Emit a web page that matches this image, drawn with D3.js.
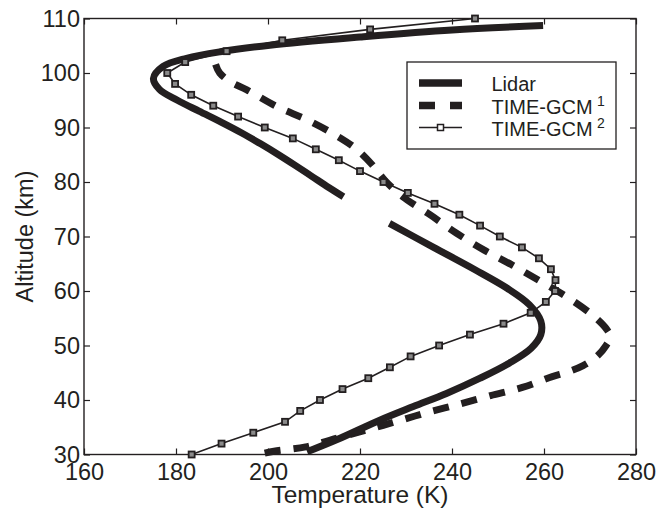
<!DOCTYPE html>
<html>
<head>
<meta charset="utf-8">
<script src="https://cdn.jsdelivr.net/npm/d3@7"></script>
<style>
  html, body { margin: 0; padding: 0; background: #fff; }
  svg { display: block; font-family: "Liberation Sans", Arial, Helvetica, sans-serif; }
</style>
</head>
<body>
<svg id="chart" width="668" height="509"></svg>
<script>
// ---------- data ----------
const xTicks = [160, 180, 200, 220, 240, 260, 280];
const yTicks = [30, 40, 50, 60, 70, 80, 90, 100, 110];
const seriesNames = ["Lidar", "TIME-GCM", "TIME-GCM"];
const seriesSup = ["", "1", "2"];

// Lidar, upper segment (temperature K, altitude km)
const lidarUpperT = [259.8, 240.0, 220.0, 200.4, 189.6, 182.3, 177.2, 175.1, 176.4, 180.3, 185.0, 189.8, 194.3, 198.4, 202.3, 206.0, 209.6, 213.2, 216.4];
const lidarUpperA = [108.7, 107.9, 106.6, 105.1, 103.9, 102.7, 101.2, 99.0, 97.0, 95.0, 93.0, 91.0, 89.0, 87.0, 85.0, 83.0, 81.0, 79.0, 77.3];
// Lidar, lower segment
const lidarLowerT = [226.4, 236.0, 245.0, 252.0, 256.8, 259.3, 259.3, 257.2, 252.5, 246.1, 238.8, 231.6, 224.3, 214.9, 208.5];
const lidarLowerA = [72.4, 68.0, 63.9, 60.5, 57.5, 54.5, 52.0, 49.5, 46.8, 44.0, 41.2, 38.8, 36.3, 32.7, 30.5];

// TIME-GCM 1
const gcm1T = [188.6, 189.5, 192.0, 195.4, 202.0, 208.5, 214.3, 219.0, 222.5, 225.5, 229.3, 235.2, 241.0, 247.0, 253.0, 259.0, 265.2, 270.5, 273.6, 274.4, 273.5, 271.5, 268.5, 265.0, 261.8, 255.3, 248.4, 241.9, 235.0, 228.5, 221.5, 215.0, 208.2, 201.3, 199.0];
const gcm1A = [101.6, 100.0, 98.3, 96.9, 93.8, 91.4, 88.8, 86.2, 83.3, 80.2, 77.3, 74.0, 70.6, 67.5, 64.8, 61.9, 58.8, 55.6, 53.0, 51.6, 50.0, 48.0, 46.3, 45.1, 44.3, 42.3, 40.8, 39.3, 37.8, 36.2, 34.5, 33.0, 31.4, 30.6, 30.2];

// TIME-GCM 2 (every 2 km)
const gcm2A = [30, 32, 34, 36, 38, 40, 42, 44, 46, 48, 50, 52, 54, 56, 58, 60, 62, 64, 66, 68, 70, 72, 74, 76, 78, 80, 82, 84, 86, 88, 90, 92, 94, 96, 98, 100, 102, 104, 106, 108, 110];
const gcm2T = [183.4, 189.9, 196.8, 203.7, 207.0, 211.3, 216.2, 221.8, 226.5, 231.0, 237.2, 243.9, 251.2, 257.1, 260.4, 262.4, 262.5, 261.5, 258.9, 255.2, 250.4, 246.1, 241.6, 236.2, 230.4, 225.1, 220.0, 215.4, 210.4, 205.4, 199.3, 193.5, 188.1, 183.3, 179.8, 178.1, 182.0, 191.0, 203.1, 222.2, 245.0];

// ---------- layout ----------
const svg = d3.select("#chart");
const L = 84, R = 636, T = 18.5, B = 454.5;
const x = d3.scaleLinear().domain([160, 280]).range([L, R]);
const y = d3.scaleLinear().domain([30, 110]).range([B, T]);
const ink = "#231f20";

const zip = (ts, as) => ts.map((t, i) => [t, as[i]]);
const smooth = d3.line().x(d => x(d[0])).y(d => y(d[1])).curve(d3.curveCatmullRom.alpha(0.5));
const straight = d3.line().x(d => x(d[0])).y(d => y(d[1]));

// ---------- axes ----------
const tickFont = 23.5;
const gB = svg.append("g").attr("transform", `translate(0,${B})`)
  .call(d3.axisBottom(x).tickValues(xTicks).tickSizeInner(-6).tickSizeOuter(0).tickPadding(9));
const gL = svg.append("g").attr("transform", `translate(${L},0)`)
  .call(d3.axisLeft(y).tickValues(yTicks).tickSizeInner(-6).tickSizeOuter(0).tickPadding(4));
const gT = svg.append("g").attr("transform", `translate(0,${T})`)
  .call(d3.axisTop(x).tickValues(xTicks).tickSizeInner(-6).tickSizeOuter(0).tickFormat(""));
const gR = svg.append("g").attr("transform", `translate(${R},0)`)
  .call(d3.axisRight(y).tickValues(yTicks).tickSizeInner(-6).tickSizeOuter(0).tickFormat(""));
[gB, gL, gT, gR].forEach(g => {
  g.select(".domain").remove();
  g.selectAll(".tick line").attr("stroke", ink).attr("stroke-width", 1.2);
  g.selectAll(".tick text").attr("fill", ink).attr("font-size", tickFont)
    .attr("font-family", "'Liberation Sans', Arial, sans-serif");
});
svg.append("rect").attr("x", L).attr("y", T).attr("width", R - L).attr("height", B - T)
  .attr("fill", "none").attr("stroke", ink).attr("stroke-width", 1.4);

svg.append("text").attr("x", (L + R) / 2).attr("y", 502.5).attr("text-anchor", "middle")
  .attr("font-size", 24.5).attr("fill", ink).text("Temperature (K)");
svg.append("text").attr("transform", `translate(33,${(T + B) / 2}) rotate(-90)`)
  .attr("text-anchor", "middle").attr("font-size", 23.5).attr("fill", ink).text("Altitude (km)");

// ---------- series ----------
const plot = svg.append("g");
// TIME-GCM 2
plot.append("path").attr("d", straight(zip(gcm2T, gcm2A)))
  .attr("fill", "none").attr("stroke", ink).attr("stroke-width", 1.6);
// TIME-GCM 1
plot.append("path").attr("d", smooth(zip(gcm1T, gcm1A)))
  .attr("fill", "none").attr("stroke", ink).attr("stroke-width", 7).attr("stroke-dasharray", "16,13");
// Lidar
[zip(lidarUpperT, lidarUpperA), zip(lidarLowerT, lidarLowerA)].forEach(seg => {
  plot.append("path").attr("d", smooth(seg))
    .attr("fill", "none").attr("stroke", ink).attr("stroke-width", 7);
});
// TIME-GCM 2 markers
const ms = 6;
plot.selectAll("rect.m").data(zip(gcm2T, gcm2A)).join("rect").attr("class", "m")
  .attr("x", d => x(d[0]) - ms / 2).attr("y", d => y(d[1]) - ms / 2)
  .attr("width", ms).attr("height", ms)
  .attr("fill", "#8a8a8a").attr("stroke", ink).attr("stroke-width", 1.8);

// ---------- legend ----------
const lg = svg.append("g");
lg.append("rect").attr("x", 407).attr("y", 62).attr("width", 209).attr("height", 87)
  .attr("fill", "#fff").attr("stroke", ink).attr("stroke-width", 1.3);
const rowsY = [83, 105.5, 127.5];
const styles = [
  { w: 7.5, dash: null, marker: false },
  { w: 7.5, dash: "16,15", marker: false },
  { w: 1.6, dash: null, marker: true }
];
seriesNames.forEach((name, i) => {
  const yy = rowsY[i], s = styles[i];
  const ln = lg.append("line").attr("x1", 419).attr("x2", 462).attr("y1", yy).attr("y2", yy)
    .attr("stroke", ink).attr("stroke-width", s.w);
  if (s.dash) ln.attr("stroke-dasharray", s.dash);
  if (s.marker) lg.append("rect").attr("x", 440.5 - ms / 2).attr("y", yy - ms / 2)
    .attr("width", ms).attr("height", ms).attr("fill", "#fff").attr("stroke", ink).attr("stroke-width", 1.5);
  lg.append("text").attr("x", 491.5).attr("y", yy + 8).attr("font-size", 20).attr("fill", ink).text(name);
  if (seriesSup[i]) {
    lg.append("text").attr("x", 597).attr("y", yy).attr("font-size", 14).attr("fill", ink).text(seriesSup[i]);
  }
});
</script>
</body>
</html>
